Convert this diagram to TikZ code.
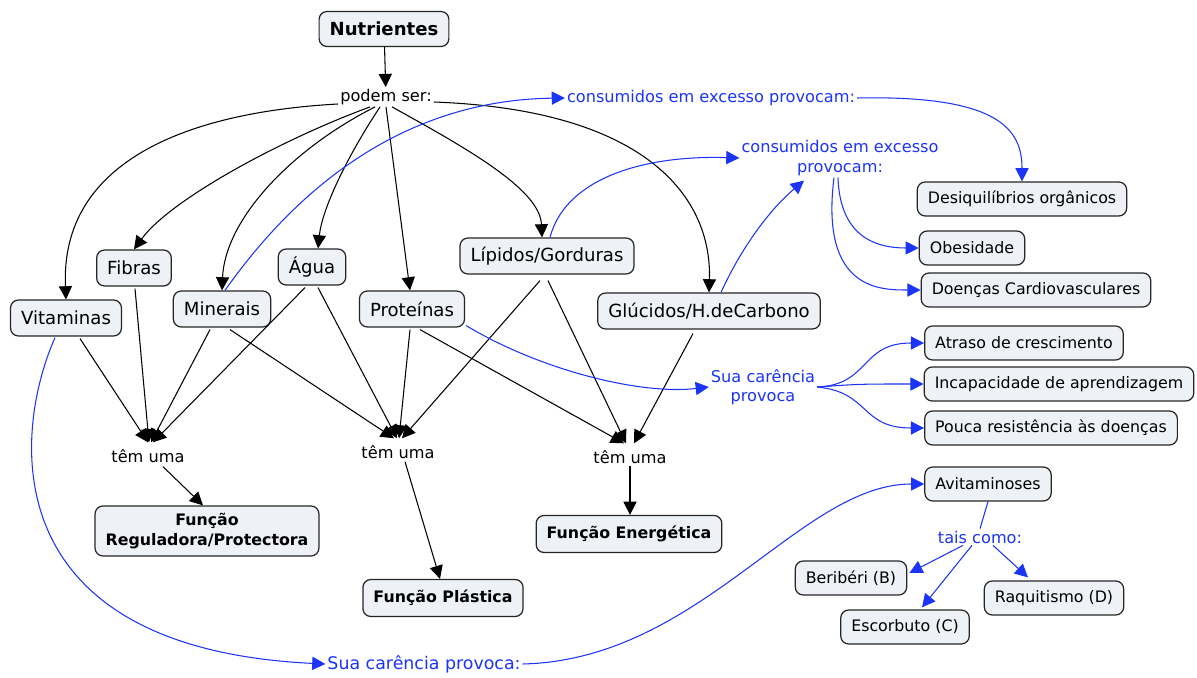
\documentclass[tikz,border=0pt]{standalone}
\usepackage{fontspec}
\setmainfont{DejaVu Sans}
\usetikzlibrary{arrows.meta,calc}
\definecolor{boxfill}{RGB}{238,241,245}
\definecolor{linkblue}{RGB}{28,52,245}
\begin{document}
\begin{tikzpicture}[x=0.02cm,y=-0.02cm,
  box/.style={draw=black!85, line width=0.7pt, fill=boxfill, rounded corners=4.5pt,
    inner xsep=6pt, inner ysep=0pt, minimum height=0.68cm, font=\fontsize{9}{11}\selectfont},
  bigbox/.style={box, font=\fontsize{10.3}{12}\selectfont, minimum height=0.72cm},
  fbox/.style={box, font=\bfseries\fontsize{9}{11.5}\selectfont, align=center,
    inner ysep=4pt, minimum height=0.74cm},
  lbl/.style={inner sep=1pt, font=\fontsize{9.2}{11}\selectfont},
  blbl/.style={lbl, text=linkblue, align=center},
  arr/.style={-{Triangle[length=7.5pt,width=7.5pt]}, line width=0.6pt},
  barr/.style={arr, draw=linkblue},
  bline/.style={line width=0.6pt, draw=linkblue}
]
\useasboundingbox (0,0) rectangle (1197,678);

% concepts
\node[box, font=\bfseries\fontsize{10.3}{12}\selectfont, minimum height=0.7cm] (nut) at (384,29) {Nutrientes};
\node[lbl] (podem) at (386,97) {podem ser:};
\node[blbl] (cons1) at (711,98) {consumidos em excesso provocam:};
\node[blbl] (cons2) at (840,158) {consumidos em excesso\\provocam:};
\node[box] (desiq) at (1022,199) {Desiquilíbrios orgânicos};
\node[box] (obes) at (972,248) {Obesidade};
\node[box] (doenc) at (1036,290) {Doenças Cardiovasculares};
\node[box] (atraso) at (1024,343) {Atraso de crescimento};
\node[box] (incap) at (1059,384) {Incapacidade de aprendizagem};
\node[box] (pouca) at (1051,428) {Pouca resistência às doenças};
\node[blbl] (sua2) at (763,387) {Sua carência\\provoca};
\node[box] (avit) at (988,484) {Avitaminoses};
\node[blbl] (tais) at (980,537) {tais como:};
\node[box] (beri) at (851,578) {Beribéri (B)};
\node[box] (escor) at (905,627) {Escorbuto (C)};
\node[box] (raqui) at (1054,598) {Raquitismo (D)};
\node[blbl, font=\fontsize{9.9}{12}\selectfont] (sua1) at (424,664) {Sua carência provoca:};

\node[bigbox] (vit) at (66,318) {Vitaminas};
\node[bigbox] (fib) at (134,268) {Fibras};
\node[bigbox] (min) at (222,309) {Minerais};
\node[bigbox] (agua) at (312,267) {Água};
\node[bigbox] (prot) at (412,309) {Proteínas};
\node[bigbox] (lip) at (547,256) {Lípidos/Gorduras};
\node[bigbox] (gluc) at (709,311) {Glúcidos/H.deCarbono};

\node[lbl] (tem1) at (148,456) {têm uma};
\node[lbl] (tem2) at (398,452) {têm uma};
\node[lbl] (tem3) at (630,457) {têm uma};
\node[fbox] (freg) at (207,531) {Função\\Reguladora/Protectora};
\node[fbox] (fpla) at (443,598) {Função Plástica};
\node[fbox] (fene) at (629,534) {Função Energética};

% "podem ser" links
\draw[arr] (nut) -- (podem);
\draw[arr] ($(podem.west)+(0,7)$) .. controls (190,112) and (60,160) .. (vit.north);
\draw[arr] ($(podem.south)+(-16,0)$) .. controls (280,140) and (170,200) .. (fib.north);
\draw[arr] ($(podem.south)+(-11,0)$) .. controls (290,150) and (225,220) .. (min.north);
\draw[arr] ($(podem.south)+(-6,0)$) .. controls (345,160) and (322,210) .. ($(agua.north)+(6,0)$);
\draw[arr] ($(podem.south)+(0,0)$) -- ($(prot.north)+(-2,0)$);
\draw[arr] ($(podem.south)+(6,0)$) .. controls (470,150) and (540,190) .. ($(lip.north)+(-5,0)$);
\draw[arr] ($(podem.east)+(0,5)$) .. controls (650,110) and (712,200) .. (gluc.north);

% "têm uma" links
\draw[arr] ($(vit.south)+(14,2)$) -- ($(tem1.north)+(0,-5)$);
\draw[arr] ($(fib.south)+(1,2)$) -- ($(tem1.north)+(1,-5)$);
\draw[arr] ($(min.south)+(-12,2)$) -- ($(tem1.north)+(3,-5)$);
\draw[arr] ($(agua.south)+(-7,2)$) -- ($(tem1.north)+(5,-5)$);
\draw[arr] ($(min.south)+(8,2)$) -- ($(tem2.north)+(-4,-5)$);
\draw[arr] ($(agua.south)+(6,2)$) -- ($(tem2.north)+(-1,-5)$);
\draw[arr] ($(prot.south)+(-2,2)$) -- ($(tem2.north)+(1,-5)$);
\draw[arr] ($(lip.south)+(-7,6)$) -- ($(tem2.north)+(4,-5)$);
\draw[arr] ($(prot.south)+(8,2)$) -- ($(tem3.north)+(-6,-5)$);
\draw[arr] ($(lip.south)+(1,6)$) -- ($(tem3.north)+(-4,-5)$);
\draw[arr] ($(gluc.south)+(-16,4)$) -- ($(tem3.north)+(4,-5)$);
\draw[arr] ($(tem1.south)+(15,2)$) -- ($(freg.north)+(-4,0)$);
\draw[arr] ($(tem2.south)+(7,1)$) -- ($(fpla.north)+(-3,0)$);
\draw[arr] (tem3.south) -- (tem3.south |- fene.north);

% excess consumption
\draw[barr] ($(min.north)+(3,0)$) .. controls (310,170) and (420,100) .. (cons1.west);
\draw[barr] (cons1.east) .. controls (1000,95) and (1022,130) .. (desiq.north);
\draw[barr] ($(lip.north)+(3,0)$) .. controls (565,180) and (640,155) .. (cons2.west);
\draw[barr] ($(gluc.north)+(12,0)$) .. controls (745,240) and (775,205) .. ($(cons2.south)+(-36,3)$);
\draw[barr] ($(cons2.south)+(-2,0)$) .. controls (840,240) and (880,248) .. (obes.west);
\draw[barr] ($(cons2.south)+(-6,0)$) .. controls (820,290) and (880,290) .. (doenc.west);

% deficiency
\draw[barr] ($(prot.south east)+(1,-2)$) .. controls (540,370) and (640,395) .. (sua2.west);
\draw[barr] (sua2.east) .. controls (870,385) and (860,343) .. (atraso.west);
\draw[barr] (sua2.east) .. controls (860,384) .. (incap.west);
\draw[barr] (sua2.east) .. controls (870,392) and (860,428) .. (pouca.west);
\draw[barr] ($(vit.south)+(-11,1)$) .. controls (14,430) and (-10,648) .. (sua1.west);
\draw[barr] (sua1.east) .. controls (700,660) and (800,484) .. (avit.west);
\draw[bline] (avit.south) -- (tais.north);
\draw[barr] ($(tais.south)+(-17,0)$) -- ($(beri.east)+(2,-5)$);
\draw[barr] ($(tais.south)+(-8,0)$) -- ($(escor.north)+(17,-2)$);
\draw[barr] ($(tais.south)+(13,0)$) -- ($(raqui.north)+(-26,-3)$);
\end{tikzpicture}
\end{document}
